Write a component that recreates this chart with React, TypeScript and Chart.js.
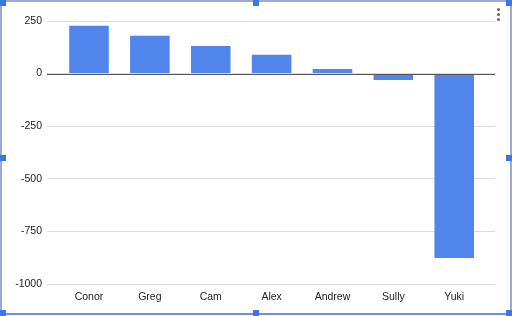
import React, { useEffect, useRef } from "react";
import { Chart, registerables } from "chart.js";

Chart.register(...registerables);

const names = ["Conor", "Greg", "Cam", "Alex", "Andrew", "Sully", "Yuki"];
const values = [228, 180, 131, 90, 22, -30, -876];
const yTicks = [250, 0, -250, -500, -750, -1000];

const FONT = "'Liberation Sans', Arial, sans-serif";

const zeroLinePlugin = {
  id: "zeroLine",
  afterDatasetsDraw(chart: any) {
    const { ctx, chartArea, scales } = chart;
    const y = Math.round(scales.y.getPixelForValue(0)) + 0.5;
    ctx.save();
    ctx.strokeStyle = "#555555";
    ctx.lineWidth = 1;
    ctx.beginPath();
    ctx.moveTo(chartArea.left, y);
    ctx.lineTo(chartArea.right, y);
    ctx.stroke();
    ctx.restore();
  },
};

export default function App() {
  const ref = useRef<HTMLCanvasElement>(null);
  useEffect(() => {
    if (!ref.current) return;
    const chart = new Chart(ref.current, {
      type: "bar",
      data: {
        datasets: [
          {
            data: values.map((v, i) => ({ x: i, y: v })),
            backgroundColor: "#5085ec",
            borderWidth: 0,
            categoryPercentage: 1,
            barPercentage: 0.65,
          },
        ],
      },
      options: {
        animation: false,
        responsive: false,
        maintainAspectRatio: false,
        plugins: { legend: { display: false }, tooltip: { enabled: false } },
        layout: { padding: { top: 21, right: 17, bottom: 8, left: 0 } },
        scales: {
          x: {
            type: "linear",
            offset: false,
            min: -0.69,
            max: 6.67,
            grid: { display: false, offset: false },
            border: { display: false },
            afterBuildTicks: (scale: any) => {
              scale.ticks = names.map((_, i) => ({ value: i }));
            },
            afterFit: (scale: any) => {
              scale.height = 24;
            },
            ticks: {
              autoSkip: false,
              maxRotation: 0,
              padding: -1,
              color: "#222222",
              font: { family: FONT, size: 10.5 },
              callback: (v: any) => names[v as number] ?? "",
            },
          },
          y: {
            min: -1000,
            max: 250,
            afterBuildTicks: (scale: any) => {
              scale.ticks = yTicks.map((v) => ({ value: v }));
            },
            afterFit: (scale: any) => {
              scale.width = 47;
            },
            grid: {
              color: "#dcdcdc",
              drawTicks: false,
              tickLength: 0,
            },
            border: { display: false },
            ticks: {
              padding: 5,
              color: "#222222",
              font: { family: FONT, size: 10.5 },
              callback: (v: any) => String(v),
            },
          },
        },
      },
      plugins: [zeroLinePlugin],
    } as any);
    return () => chart.destroy();
  }, []);

  const handle = (left: number, top: number): React.CSSProperties => ({
    position: "absolute",
    left,
    top,
    width: 6,
    height: 6,
    background: "#3b78e7",
  });
  const dot = (top: number): React.CSSProperties => ({
    position: "absolute",
    left: 497,
    top,
    width: 3,
    height: 3,
    borderRadius: 2,
    background: "#666666",
  });

  return (
    <div
      style={{
        position: "fixed",
        left: 0,
        top: 0,
        width: 512,
        height: 316,
        background: "#ffffff",
      }}
    >
      <canvas
        ref={ref}
        width={512}
        height={316}
        style={{ position: "absolute", left: 0, top: 0, width: 512, height: 316 }}
      />
      <div
        style={{
          position: "absolute",
          left: 0,
          top: 0,
          width: 512,
          height: 315,
          boxSizing: "border-box",
          borderTop: "2px solid #9aaad8",
          borderLeft: "2px solid #9aaad8",
          borderRight: "2px solid #9aaad8",
          borderBottom: "2px solid #6f8fd8",
          pointerEvents: "none",
        }}
      />
      <div style={handle(0, 0)} />
      <div style={handle(253, 0)} />
      <div style={handle(506, 0)} />
      <div style={handle(0, 155)} />
      <div style={handle(506, 155)} />
      <div style={handle(0, 310)} />
      <div style={handle(253, 310)} />
      <div style={handle(506, 310)} />
      <div style={dot(8)} />
      <div style={dot(13)} />
      <div style={dot(18)} />
    </div>
  );
}
